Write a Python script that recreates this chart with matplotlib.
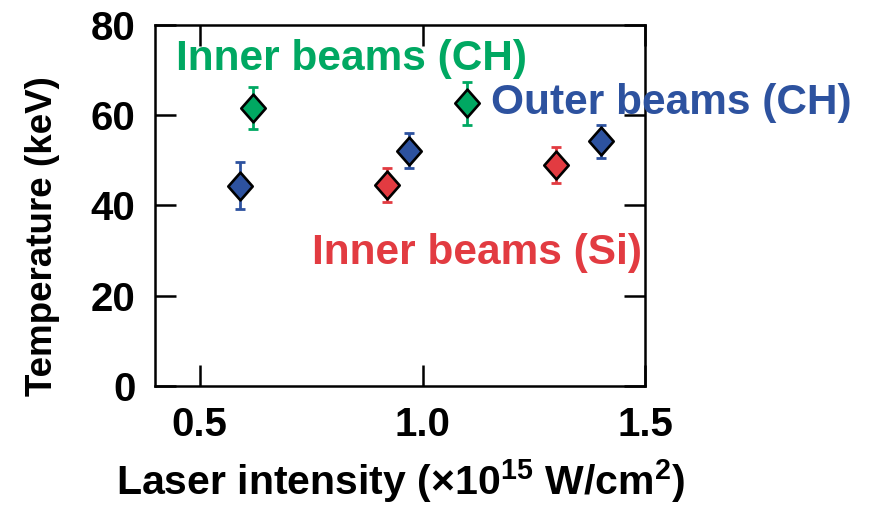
import matplotlib
matplotlib.use("Agg")
import matplotlib.pyplot as plt
from matplotlib.path import Path

plt.rcParams['font.family'] = ['Liberation Sans', 'DejaVu Sans']
plt.rcParams['font.weight'] = 'bold'
plt.rcParams['mathtext.fontset'] = 'custom'
plt.rcParams['mathtext.rm'] = 'Liberation Sans'
plt.rcParams['mathtext.bf'] = 'Liberation Sans:bold'

# intensity (x1e15 W/cm2), temperature (keV), error (keV)
inner_ch_x = [0.62, 1.10]
inner_ch_t = [61.6, 62.6]
inner_ch_err = [4.7, 4.8]

outer_ch_x = [0.59, 0.97, 1.40]
outer_ch_t = [44.4, 52.1, 54.2]
outer_ch_err = [5.2, 3.9, 3.7]

inner_si_x = [0.92, 1.30]
inner_si_t = [44.5, 48.9]
inner_si_err = [3.8, 4.0]

GREEN = "#00a862"
BLUE = "#2d529f"
RED = "#e23b41"

diamond = Path([(0, 1), (0.88, 0), (0, -1), (-0.88, 0), (0, 1)],
               [Path.MOVETO, Path.LINETO, Path.LINETO, Path.LINETO, Path.CLOSEPOLY])

fig = plt.figure(figsize=(8.71, 5.08), dpi=100)
ax = fig.add_axes([0.178, 0.240, 0.563, 0.711])

for xs, ts, errs, col in [(outer_ch_x, outer_ch_t, outer_ch_err, BLUE),
                          (inner_ch_x, inner_ch_t, inner_ch_err, GREEN),
                          (inner_si_x, inner_si_t, inner_si_err, RED)]:
    ax.errorbar(xs, ts, yerr=errs, fmt='none', ecolor=col, elinewidth=2,
                capsize=3.5, capthick=2, zorder=2)
    ax.plot(xs, ts, linestyle='none', marker=diamond, markersize=20,
            markerfacecolor=col, markeredgecolor='black', markeredgewidth=1.9,
            zorder=3)

ax.set_xlim(0.4, 1.5)
ax.set_ylim(0, 80)
ax.set_xticks([0.5, 1.0, 1.5])
ax.set_xticklabels(["0.5", "1.0", "1.5"])
ax.set_yticks([0, 20, 40, 60, 80])
ax.tick_params(direction='in', length=15, width=1.8, labelsize=29, pad=14,
               top=True, right=True)
for s in ax.spines.values():
    s.set_linewidth(1.8)

ax.set_ylabel("Temperature (keV)", fontsize=26.5, fontweight='bold')
ax.yaxis.set_label_coords(-0.194, 0.415)
ax.set_xlabel("Laser intensity (×10$^{\\mathbf{15}}$ W/cm$^{\\mathbf{2}}$)",
              fontsize=29.5, fontweight='bold')
ax.xaxis.set_label_coords(0.5, -0.198)

ax.text(0.447, 70.0, "Inner beams (CH)", color=GREEN, fontsize=30.5,
        fontweight='bold', va='baseline')
ax.text(1.154, 60.2, "Outer beams (CH)", color=BLUE, fontsize=30.5,
        fontweight='bold', va='baseline', clip_on=False)
ax.text(0.753, 27.1, "Inner beams (Si)", color=RED, fontsize=30.5,
        fontweight='bold', va='baseline')

fig.savefig("out.png", dpi=100)
